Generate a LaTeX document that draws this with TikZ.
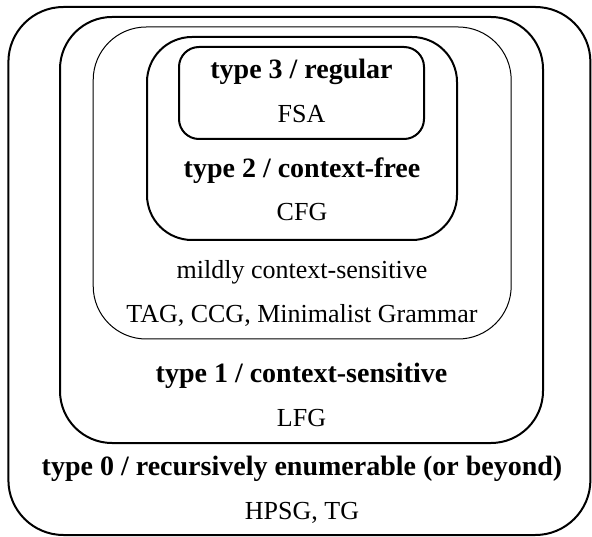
\documentclass[tikz,border=0pt]{standalone}
\usepackage{fontspec}
\setmainfont{Liberation Serif}
\usetikzlibrary{positioning}

\begin{document}
\begin{tikzpicture}[
    x=1pt, y=-1pt,
    level/.style={rectangle, draw=black, fill=none, inner sep=0pt,
                  line width=2pt},
    thinlevel/.style={level, line width=1pt},
    grammar/.style={anchor=base, font=\fontsize{28}{32}\selectfont\bfseries},
    formalism/.style={anchor=base, font=\fontsize{26}{30}\selectfont}
]
\useasboundingbox (0,0) rectangle (592,537);

% Nested classes
\node[level, rounded corners=55pt, minimum width=582pt, minimum height=528pt] (t0) at (299.4,271) {};
\node[level, rounded corners=52pt, minimum width=483pt, minimum height=426pt] (t1) at (301.5,230) {};
\node[thinlevel, rounded corners=53pt, minimum width=418pt, minimum height=312pt] (mcs) at (302.2,183) {};
\node[level, rounded corners=45pt, minimum width=310pt, minimum height=203pt] (t2) at (302,138.5) {};
\node[level, rounded corners=20pt, minimum width=245pt, minimum height=92pt] (t3) at (301.5,93) {};

% Labels
\node[grammar] (l3) at (301.5,79) {type 3 / regular};
\node[formalism] (f3) at (301.5,123) {FSA};
\node[grammar] (l2) at (302,178) {type 2 / context-free};
\node[formalism] (f2) at (302,221) {CFG};
\node[formalism] (lm) at (302,279) {mildly context-sensitive};
\node[formalism] (fm) at (302,323) {TAG, CCG, Minimalist Grammar};
\node[grammar] (l1) at (301.5,382) {type 1 / context-sensitive};
\node[formalism] (f1) at (301.5,426) {LFG};
\node[grammar] (l0) at (302,475) {type 0 / recursively enumerable (or beyond)};
\node[formalism] (f0) at (302,519) {HPSG, TG};

\end{tikzpicture}
\end{document}
